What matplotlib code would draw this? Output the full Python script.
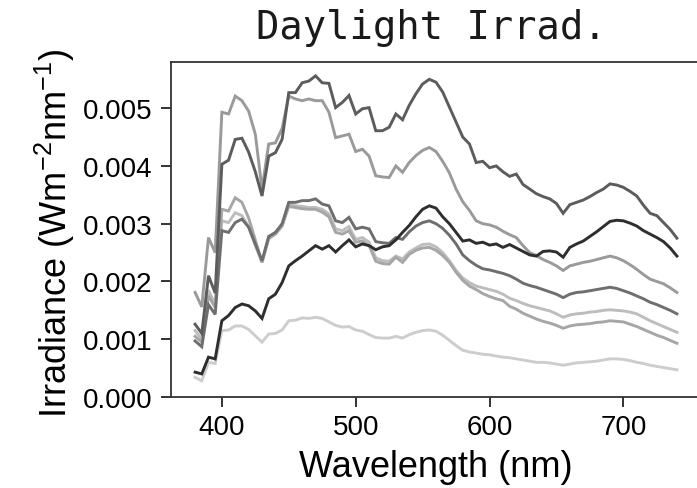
import matplotlib
matplotlib.use("Agg")
import matplotlib.pyplot as plt
import numpy as np

plt.rcParams['font.family'] = ['Liberation Sans', 'DejaVu Sans']
plt.rcParams['mathtext.fontset'] = 'custom'
plt.rcParams['mathtext.rm'] = 'Liberation Sans'
plt.rcParams['mathtext.default'] = 'regular'

wavelength = list(range(380, 745, 5))

# values in units of 1e-3 W m-2 nm-1
series_a = [1.26, 1.10, 2.10, 1.80, 4.03, 4.10, 4.46, 4.48, 4.24, 3.90, 3.48, 4.17, 4.23, 4.46, 5.27, 5.27,
            5.44, 5.47, 5.56, 5.44, 5.43, 5.01, 5.10, 5.22, 4.90, 4.99, 5.01, 4.61, 4.61, 4.67, 4.90, 4.80,
            5.05, 5.25, 5.42, 5.50, 5.45, 5.28, 5.02, 4.76, 4.50, 4.38, 4.06, 4.08, 3.97, 4.00, 3.90, 3.82,
            3.86, 3.68, 3.60, 3.52, 3.47, 3.43, 3.35, 3.18, 3.33, 3.37, 3.41, 3.47, 3.54, 3.60, 3.69, 3.67,
            3.63, 3.56, 3.48, 3.32, 3.18, 3.14, 3.02, 2.90, 2.75]
series_b = [1.81, 1.56, 2.76, 2.50, 4.93, 4.90, 5.21, 5.13, 4.95, 4.55, 3.60, 4.38, 4.40, 4.65, 5.21, 5.16,
            5.13, 5.16, 5.13, 5.13, 4.93, 4.49, 4.52, 4.55, 4.25, 4.29, 4.17, 3.83, 3.81, 3.80, 4.00, 3.89,
            4.06, 4.18, 4.27, 4.32, 4.25, 4.08, 3.88, 3.60, 3.38, 3.23, 3.05, 3.00, 2.98, 2.94, 2.87, 2.81,
            2.76, 2.62, 2.50, 2.45, 2.38, 2.33, 2.27, 2.19, 2.27, 2.30, 2.33, 2.35, 2.38, 2.41, 2.44, 2.41,
            2.36, 2.29, 2.21, 2.12, 2.04, 2.00, 1.96, 1.89, 1.81]
series_c = [0.97, 0.87, 1.60, 1.43, 2.88, 2.85, 3.02, 3.08, 2.94, 2.65, 2.36, 2.78, 2.85, 3.00, 3.37, 3.37,
            3.40, 3.40, 3.43, 3.34, 3.31, 3.05, 3.02, 3.11, 2.91, 2.94, 2.91, 2.69, 2.67, 2.66, 2.76, 2.73,
            2.86, 2.96, 3.02, 3.05, 3.00, 2.92, 2.80, 2.65, 2.46, 2.36, 2.28, 2.22, 2.20, 2.17, 2.14, 2.10,
            2.04, 1.97, 1.93, 1.90, 1.86, 1.82, 1.78, 1.72, 1.78, 1.81, 1.82, 1.84, 1.86, 1.88, 1.90, 1.88,
            1.84, 1.80, 1.75, 1.70, 1.64, 1.60, 1.55, 1.50, 1.44]
series_d = [0.43, 0.40, 0.69, 0.66, 1.32, 1.41, 1.55, 1.61, 1.58, 1.49, 1.36, 1.70, 1.78, 1.98, 2.27, 2.36,
            2.44, 2.53, 2.62, 2.56, 2.62, 2.51, 2.62, 2.72, 2.60, 2.65, 2.62, 2.55, 2.60, 2.62, 2.72, 2.85,
            2.97, 3.12, 3.25, 3.31, 3.27, 3.12, 3.00, 2.85, 2.70, 2.72, 2.66, 2.68, 2.63, 2.65, 2.59, 2.64,
            2.58, 2.52, 2.46, 2.44, 2.52, 2.53, 2.51, 2.42, 2.59, 2.65, 2.70, 2.78, 2.86, 2.95, 3.04, 3.06,
            3.05, 3.01, 2.96, 2.88, 2.82, 2.76, 2.69, 2.58, 2.44]
series_e = [0.34, 0.28, 0.60, 0.58, 1.15, 1.16, 1.23, 1.23, 1.17, 1.06, 0.95, 1.09, 1.10, 1.16, 1.32, 1.33,
            1.37, 1.36, 1.38, 1.36, 1.30, 1.24, 1.21, 1.22, 1.16, 1.14, 1.08, 1.03, 1.02, 1.02, 1.05, 1.02,
            1.08, 1.12, 1.15, 1.16, 1.14, 1.07, 0.98, 0.89, 0.81, 0.78, 0.76, 0.74, 0.73, 0.71, 0.69, 0.68,
            0.66, 0.64, 0.62, 0.60, 0.60, 0.59, 0.57, 0.55, 0.57, 0.59, 0.60, 0.61, 0.62, 0.64, 0.66, 0.66,
            0.65, 0.63, 0.60, 0.58, 0.55, 0.53, 0.51, 0.49, 0.47]
series_f = [1.15, 1.00, 1.85, 1.60, 3.05, 3.02, 3.19, 3.14, 2.95, 2.62, 2.33, 2.76, 2.83, 2.97, 3.33, 3.31,
            3.30, 3.28, 3.28, 3.25, 3.17, 2.91, 2.88, 2.95, 2.73, 2.76, 2.68, 2.41, 2.36, 2.35, 2.44, 2.39,
            2.51, 2.58, 2.64, 2.65, 2.60, 2.50, 2.36, 2.19, 2.06, 1.98, 1.92, 1.89, 1.86, 1.83, 1.78, 1.71,
            1.67, 1.62, 1.58, 1.55, 1.52, 1.49, 1.44, 1.38, 1.42, 1.44, 1.45, 1.47, 1.48, 1.50, 1.51, 1.50,
            1.49, 1.47, 1.44, 1.38, 1.32, 1.27, 1.22, 1.17, 1.12]
series_g = [1.05, 0.95, 1.75, 1.55, 3.25, 3.22, 3.45, 3.37, 3.10, 2.72, 2.33, 2.74, 2.82, 2.96, 3.30, 3.28,
            3.26, 3.25, 3.25, 3.20, 3.12, 2.85, 2.82, 2.88, 2.68, 2.70, 2.62, 2.35, 2.31, 2.30, 2.42, 2.33,
            2.47, 2.54, 2.58, 2.59, 2.54, 2.45, 2.33, 2.16, 2.02, 1.92, 1.86, 1.79, 1.74, 1.70, 1.67, 1.57,
            1.52, 1.45, 1.40, 1.35, 1.31, 1.28, 1.24, 1.19, 1.23, 1.25, 1.26, 1.27, 1.29, 1.30, 1.32, 1.31,
            1.30, 1.26, 1.22, 1.17, 1.12, 1.07, 1.03, 0.98, 0.93]

series_list = [series_e, series_f, series_g, series_b, series_c, series_a, series_d]
colors = ['#cdcdcd', '#bdbdbd', '#a6a6a6', '#9a9a9a', '#6e6e6e', '#5c5c5c', '#2e2e2e']

x_ticks = [400, 500, 600, 700]
y_ticks = [0.000, 0.001, 0.002, 0.003, 0.004, 0.005]

W, H = 697, 489
fig = plt.figure(figsize=(W / 100, H / 100), dpi=100)
left, right, bottom, top = 171, 701, 398, 63
ax = fig.add_axes([left / W, (H - bottom) / H, (right - left) / W, (bottom - top) / H])

wl = np.array(wavelength)
for s, c in zip(series_list, colors):
    ax.plot(wl, np.array(s) * 1e-3, color=c, lw=2.1, solid_joinstyle='miter')

ax.set_xlim(362, 758)
ax.set_ylim(0, 0.0058)
ax.set_xticks(x_ticks)
ax.set_yticks(y_ticks)
ax.set_xticklabels([str(v) for v in x_ticks])
ax.set_yticklabels([f"{v:.3f}" for v in y_ticks])
ax.tick_params(axis='both', direction='out', length=7.2, width=1.4, color='#333333',
               labelsize=20, labelcolor='black', pad=5)
ax.tick_params(axis='y', pad=6)
for sp in ax.spines.values():
    sp.set_color('#333333')
    sp.set_linewidth(1.3)

fig.text(436 / W, (H - 477) / H, 'Wavelength (nm)', fontsize=26, ha='center', va='baseline')
fig.text(67 / W, (H - 233) / H, r'Irradiance (Wm$^{-2}$nm$^{-1}$)', fontsize=26, rotation=90,
         rotation_mode='anchor', ha='center', va='baseline')
fig.text(431 / W, (H - 39) / H, 'Daylight Irrad.', family='DejaVu Sans Mono', fontsize=28,
         ha='center', va='baseline', color='#1a1a1a')

fig.savefig('out.png', dpi=100)
